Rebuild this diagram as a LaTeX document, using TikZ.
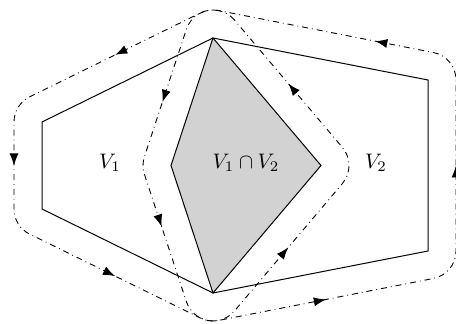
\documentclass[tikz,border=0pt]{standalone}
\usepackage{amsmath, amssymb}
\usetikzlibrary{calc, arrows.meta, decorations.markings}

\tikzset{
  region/.style={line width=0.5pt},
  contour/.style={dash dot, line width=0.45pt},
  midarrow/.style={postaction={decorate},
    decoration={markings, mark=at position #1 with {\arrow{Latex[length=6pt,width=4.5pt]}}}},
  midarrow/.default=0.5,
}

\begin{document}
\begin{tikzpicture}[x=0.5pt, y=-0.5pt]
  \useasboundingbox (0,0) rectangle (456,324);

  % Vertices
  \coordinate (top) at (213,38);
  \coordinate (bot) at (213,293);
  \coordinate (lt)  at (42,122);
  \coordinate (lb)  at (42,209);
  \coordinate (rt)  at (428,80);
  \coordinate (rb)  at (428,251);
  \coordinate (rv)  at (321,165.5);
  \coordinate (lv)  at (171,165.5);

  % Intersection
  \fill[gray!35] (top) -- (lv) -- (bot) -- (rv) -- cycle;

  % The two regions
  \draw[region] (top) -- (lt) -- (lb) -- (bot) -- (rv) -- cycle;
  \draw[region] (top) -- (lv) -- (bot) -- (rb) -- (rt) -- cycle;

  % Labels
  \node[scale=1.05] (lab1)  at (110,163) {$V_1$};
  \node[scale=1.05] (lab12) at (246,163) {$V_1 \cap V_2$};
  \node[scale=1.05] (lab2)  at (376,163) {$V_2$};

  % Contour around V1
  \draw[contour] ($(top)+(-40.27:28)$) coordinate (a0)
    arc[start angle=-40.27, end angle=-116.16, radius=28] coordinate (a1)
    -- ($(lt)+(-116.16:28)$) coordinate (a2)
    arc[start angle=-116.16, end angle=-180, radius=28] coordinate (a3)
    -- ($(lb)+(180:28)$) coordinate (a4)
    arc[start angle=180, end angle=116.16, radius=28] coordinate (a5)
    -- ($(bot)+(116.16:28)$) coordinate (a6)
    arc[start angle=116.16, end angle=40.27, radius=28] coordinate (a7)
    -- ($(rv)+(40.27:28)$) coordinate (a8)
    arc[start angle=40.27, end angle=-40.27, radius=28] coordinate (a9)
    -- cycle;
  \path[midarrow] (a1) -- (a2);
  \path[midarrow] (a3) -- (a4);
  \path[midarrow] (a5) -- (a6);
  \path[midarrow] (a7) -- (a8);
  \path[midarrow] (a9) -- (a0);

  % Contour around V2
  \draw[contour] ($(top)+(-78.95:28)$) coordinate (b0)
    arc[start angle=-78.95, end angle=-161.76, radius=28] coordinate (b1)
    -- ($(lv)+(-161.76:28)$) coordinate (b2)
    arc[start angle=-161.76, end angle=-198.24, radius=28] coordinate (b3)
    -- ($(bot)+(161.76:28)$) coordinate (b4)
    arc[start angle=161.76, end angle=78.95, radius=28] coordinate (b5)
    -- ($(rb)+(78.95:28)$) coordinate (b6)
    arc[start angle=78.95, end angle=0, radius=28] coordinate (b7)
    -- ($(rt)+(0:28)$) coordinate (b8)
    arc[start angle=0, end angle=-78.95, radius=28] coordinate (b9)
    -- cycle;
  \path[midarrow=0.57] (b1) -- (b2);
  \path[midarrow=0.41] (b3) -- (b4);
  \path[midarrow] (b5) -- (b6);
  \path[midarrow] (b7) -- (b8);
  \path[midarrow=0.27] (b9) -- (b0);
\end{tikzpicture}
\end{document}
